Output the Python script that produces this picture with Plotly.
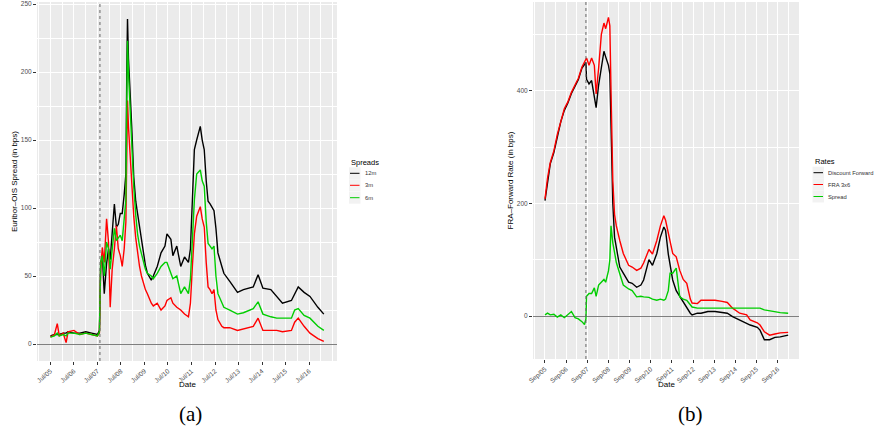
import plotly.graph_objects as go

# ---------------- Panel (a): Euribor-OIS spreads ----------------
dates_a = [
    "2005-07-01", "2005-09-01", "2005-10-15", "2005-11-15", "2006-01-15", "2006-03-01",
    "2006-04-01", "2006-07-01", "2006-10-01", "2007-01-01", "2007-04-01", "2007-07-01",
    "2007-08-01", "2007-08-09", "2007-08-20", "2007-09-15", "2007-10-15", "2007-11-20",
    "2007-12-20", "2008-01-15", "2008-02-15", "2008-03-20", "2008-04-20", "2008-05-20",
    "2008-06-20", "2008-07-20", "2008-08-20", "2008-09-15", "2008-09-29", "2008-10-10",
    "2008-10-25", "2008-11-15", "2008-12-15", "2009-01-15", "2009-02-15", "2009-03-15",
    "2009-04-15", "2009-05-15", "2009-06-15", "2009-07-15", "2009-08-15", "2009-10-15",
    "2009-11-15", "2010-01-15", "2010-03-15", "2010-05-15", "2010-06-15", "2010-08-15",
    "2010-09-15", "2010-11-15", "2011-01-15", "2011-03-15", "2011-05-15", "2011-06-15",
    "2011-07-15", "2011-08-15", "2011-09-20", "2011-11-15", "2011-12-15", "2012-01-15",
    "2012-02-15", "2012-03-15", "2012-04-15", "2012-05-15", "2012-06-15", "2012-07-15",
    "2012-08-15", "2012-10-15", "2012-11-15", "2013-02-15", "2013-06-15", "2013-09-15",
    "2013-11-15", "2014-02-15", "2014-05-01", "2014-07-15", "2014-11-15", "2015-02-15",
    "2015-05-15", "2015-10-01", "2015-11-20", "2016-01-15", "2016-04-15", "2016-07-15",
    "2016-11-15", "2017-02-15",
]
spread_12m = [
    6, 7, 7, 7, 8, 8, 9, 8, 8, 9, 8, 7,
    10, 45, 59, 65, 37, 59, 70, 62, 80, 103, 86, 88,
    96, 96, 110, 125, 200, 239, 210, 191, 160, 123, 105, 96,
    86, 75, 67, 58, 52, 47, 50, 57, 67, 72, 81, 77,
    65, 72, 57, 64, 60, 70, 106, 143, 150, 160, 150, 143,
    120, 105, 103, 100, 98, 85, 67, 57, 52, 46, 38, 40,
    41, 42, 51, 41, 40, 35, 30, 32, 37, 42, 38, 35,
    27, 22,
]
spread_3m = [
    5, 7, 15, 6, 8, 1, 9, 10, 7, 8, 7, 6,
    8, 40, 55, 71, 60, 92, 75, 27, 55, 70, 87, 70,
    65, 57, 70, 90, 150, 179, 160, 142, 115, 94, 78, 67,
    57, 50, 44, 40, 37, 30, 28, 30, 25, 28, 32, 34,
    30, 27, 25, 22, 20, 30, 57, 81, 94, 101, 92, 86,
    60, 42, 40, 37, 40, 25, 18, 13, 12, 12, 10, 11,
    12, 13, 19, 10, 10, 10, 9, 10, 16, 19, 13, 8,
    4, 2,
]
spread_6m = [
    5, 6, 8, 6, 7, 6, 8, 8, 7, 8, 7, 6,
    9, 45, 60, 65, 50, 75, 70, 55, 70, 85, 76, 78,
    80, 76, 95, 106, 180, 223, 200, 179, 145, 116, 95, 81,
    72, 66, 62, 55, 52, 50, 48, 52, 57, 60, 60, 52,
    48, 50, 37, 42, 37, 48, 81, 106, 125, 128, 120, 116,
    90, 74, 72, 70, 72, 50, 37, 30, 27, 25, 22, 23,
    24, 26, 31, 22, 20, 19, 19, 19, 25, 26, 21, 19,
    13, 10,
]

# ---------------- Panel (b): FRA vs discount forward ----------------
dates_b = [
    "2005-09-01", "2005-10-15", "2005-12-01", "2006-02-01", "2006-04-01", "2006-06-01",
    "2006-08-01", "2006-10-01", "2006-12-01", "2007-02-01", "2007-04-01", "2007-06-01",
    "2007-07-15", "2007-08-09", "2007-08-20", "2007-10-01", "2007-11-15", "2008-01-01",
    "2008-02-01", "2008-03-15", "2008-05-01", "2008-06-15", "2008-07-15", "2008-09-01",
    "2008-09-25", "2008-10-15", "2008-11-15", "2008-12-15", "2009-01-15", "2009-03-15",
    "2009-05-15", "2009-08-15", "2009-10-15", "2010-01-01", "2010-03-15", "2010-05-01",
    "2010-08-01", "2010-10-01", "2010-12-15", "2011-02-15", "2011-04-15", "2011-05-15",
    "2011-07-01", "2011-08-01", "2011-09-15", "2011-11-15", "2011-12-15", "2012-01-15",
    "2012-03-15", "2012-05-15", "2012-07-15", "2012-08-15", "2012-11-15", "2013-01-15",
    "2013-05-15", "2013-09-15", "2014-01-15", "2014-04-15", "2014-07-15", "2014-11-15",
    "2015-03-15", "2015-05-15", "2015-09-15", "2015-11-01", "2016-01-15", "2016-04-15",
    "2016-07-15", "2016-10-15", "2017-03-01",
]
discount_fwd = [
    205, 240, 270, 290, 320, 345, 365, 378, 395, 408, 420, 440,
    448, 450, 420, 412, 418, 390, 370, 410, 445, 470, 460, 445,
    430, 320, 200, 140, 120, 87, 76, 60, 58, 51, 55, 64,
    100, 90, 111, 140, 158, 152, 110, 94, 64, 45, 40, 34,
    25, 16, 5, 2, 5, 5, 8, 8, 7, 5, -1, -7,
    -12, -16, -20, -25, -42, -42, -38, -37, -34,
]
fra_3x6 = [
    208, 245, 272, 293, 322, 347, 368, 380, 397, 410, 422, 442,
    450, 455, 458, 445, 458, 445, 394, 440, 500, 520, 510, 530,
    515, 400, 240, 180, 160, 134, 111, 90, 87, 81, 85, 94,
    118, 110, 134, 160, 178, 170, 145, 134, 111, 105, 90, 81,
    65, 58, 30, 23, 22, 28, 28, 28, 26, 24, 14, 5,
    2, -7, -12, -16, -28, -34, -32, -30, -29,
]
fra_spread = [
    2, 5, 2, 3, -2, 2, -3, 2, 8, -3, -5, -10,
    -15, -5, 35, 40, 40, 50, 35, 55, 60, 65, 60, 80,
    100, 160, 130, 110, 95, 75, 55, 48, 45, 34, 35, 34,
    33, 30, 28, 30, 28, 30, 45, 76, 76, 85, 60, 34,
    30, 28, 20, 16, 14, 14, 14, 14, 14, 14, 14, 14,
    14, 14, 14, 14, 11, 9, 8, 6, 5,
]

ticks_a = ["%d-07-01" % y for y in range(2005, 2017)]
ticks_b = ["%d-09-01" % y for y in range(2005, 2017)]
crisis_date = "2007-08-09"

series_a = [("12m", spread_12m, "black"), ("3m", spread_3m, "#FF0000"),
            ("6m", spread_6m, "#00CD00")]
series_b = [("Discount Forward", discount_fwd, "black"), ("FRA 3x6", fra_3x6, "#FF0000"),
            ("Spread", fra_spread, "#00CD00")]

FONT = "Liberation Sans"
GRAY_BG = "#EBEBEB"
TICK_COL = "#4D4D4D"

W, H = 874, 440
ML, MR, MT, MB = 37, 75, 2, 79
PW, PH = W - ML - MR, H - MT - MB


def px(x):
    return (x - ML) / PW


def py(y):
    return (H - MB - y) / PH


fig = go.Figure()

for name, vals, col in series_a:
    fig.add_trace(go.Scatter(x=dates_a, y=vals, mode="lines", name=name,
                             line=dict(color=col, width=1.4), xaxis="x", yaxis="y",
                             showlegend=False))
for name, vals, col in series_b:
    fig.add_trace(go.Scatter(x=dates_b, y=vals, mode="lines", name=name,
                             line=dict(color=col, width=1.4), xaxis="x2", yaxis="y2",
                             showlegend=False))

tickfont = dict(family=FONT, size=6.5, color=TICK_COL)
titlefont = dict(family=FONT, size=8, color="black")


def xaxis_cfg(domain, rng, tickvals, anchor):
    return dict(domain=domain, range=rng, type="date", anchor=anchor,
                tickvals=tickvals, tickformat="%b/%y", tickangle=-40,
                tickfont=tickfont, ticks="outside", ticklen=3, tickcolor="#333333",
                tickwidth=0.8, showgrid=True, gridcolor="white", gridwidth=1.1,
                minor=dict(dtick="M6", tick0=tickvals[0], showgrid=True,
                           gridcolor="white", gridwidth=0.5, ticks=""),
                showline=False, zeroline=False, automargin=False)


def yaxis_cfg(domain, rng, dtick, anchor, title):
    return dict(domain=domain, range=rng, anchor=anchor, dtick=dtick, tick0=0,
                tickfont=tickfont, ticks="outside", ticklen=3, tickcolor="#333333",
                tickwidth=0.8, showgrid=True, gridcolor="white", gridwidth=1.1,
                minor=dict(dtick=dtick / 2, showgrid=True, gridcolor="white",
                           gridwidth=0.5, ticks=""),
                showline=False, zeroline=True, zerolinecolor="#7F7F7F", zerolinewidth=1,
                automargin=False,
                title=dict(text=title, font=titlefont, standoff=2))


shapes = [
    dict(type="line", xref="x", yref="y domain", x0=crisis_date, x1=crisis_date,
         y0=0, y1=1, line=dict(color="#666666", width=1, dash="3px,3px"), layer="above"),
    dict(type="line", xref="x2", yref="y2 domain", x0=crisis_date, x1=crisis_date,
         y0=0, y1=1, line=dict(color="#666666", width=1, dash="3px,3px"), layer="above"),
]
annotations = [
    dict(text="Date", x=px(187), y=py(384), xref="paper", yref="paper", showarrow=False,
         xanchor="center", yanchor="middle", font=titlefont),
    dict(text="Date", x=px(666), y=py(384), xref="paper", yref="paper", showarrow=False,
         xanchor="center", yanchor="middle", font=titlefont),
    dict(text="(a)", x=px(190), y=py(414), xref="paper", yref="paper", showarrow=False,
         xanchor="center", yanchor="middle",
         font=dict(family="Liberation Serif", size=21, color="black")),
    dict(text="(b)", x=px(690), y=py(414), xref="paper", yref="paper", showarrow=False,
         xanchor="center", yanchor="middle",
         font=dict(family="Liberation Serif", size=21, color="black")),
]


def add_legend(title, series, x0, ytitle, ys):
    annotations.append(dict(text=title, x=px(x0), y=py(ytitle), xref="paper", yref="paper",
                            xanchor="left", yanchor="middle", showarrow=False,
                            font=dict(family=FONT, size=7.5, color="black")))
    for (name, _vals, col), yy in zip(series, ys):
        shapes.append(dict(type="rect", xref="paper", yref="paper", x0=px(x0),
                           x1=px(x0 + 11.5), y0=py(yy + 6), y1=py(yy - 6),
                           fillcolor="#F2F2F2", line=dict(width=0), layer="above"))
        shapes.append(dict(type="line", xref="paper", yref="paper", x0=px(x0 + 1),
                           x1=px(x0 + 10.5), y0=py(yy), y1=py(yy),
                           line=dict(color=col, width=1), layer="above"))
        annotations.append(dict(text=name, x=px(x0 + 13.5), y=py(yy), xref="paper",
                                yref="paper", xanchor="left", yanchor="middle",
                                showarrow=False,
                                font=dict(family=FONT, size=5.8, color="#333333")))


add_legend("Spreads", series_a, 349, 162, [173.3, 185.3, 197.7])
add_legend("Rates", series_b, 812.5, 161, [172.7, 184.5, 196.5])

fig.update_layout(
    width=W, height=H,
    margin=dict(l=ML, r=MR, t=MT, b=MB),
    paper_bgcolor="white", plot_bgcolor=GRAY_BG,
    font=dict(family=FONT),
    xaxis=xaxis_cfg([px(37), px(337)], ["2004-12-04", "2017-09-08"], ticks_a, "y"),
    yaxis=yaxis_cfg([py(361), py(2)], [-12.5, 251.5], 50, "x",
                    "Euribor–OIS Spread (in bps)"),
    xaxis2=xaxis_cfg([px(533), px(799)], ["2005-02-06", "2017-09-04"], ticks_b, "y2"),
    yaxis2=yaxis_cfg([py(359), py(2)], [-76.3, 557.4], 200, "x2",
                     "FRA–Forward Rate (in bps)"),
    shapes=shapes,
    annotations=annotations,
    showlegend=False,
)

fig.write_html("out.html", config={"displayModeBar": False},
               post_script="document.body.style.margin='0';document.body.style.overflow='hidden';")
